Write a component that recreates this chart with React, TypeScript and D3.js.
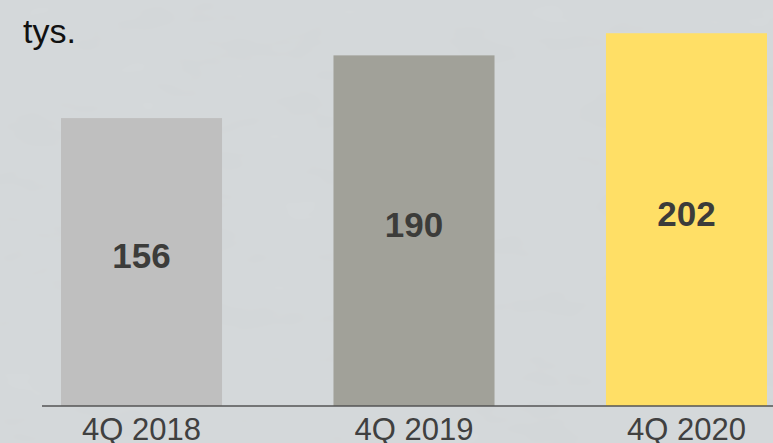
import React from "react";
import * as d3 from "d3";

const categories = ["4Q 2018", "4Q 2019", "4Q 2020"];
const values = [156, 190, 202];
const barColors = ["#bfbfbf", "#a1a199", "#ffdf66"];
const unitLabel = "tys.";

const W = 773;
const H = 443;
const baseY = 406;

export default function App() {
  const x = d3.scaleBand<string>().domain(categories).range([61, 767]).paddingInner(0.409).paddingOuter(0);
  const y = d3.scaleLinear().domain([0, 220]).range([baseY, 0]);
  const font = "'Liberation Sans', Arial, Helvetica, sans-serif";
  return (
    <svg width={W} height={H} style={{ position: "absolute", left: 0, top: 0, display: "block" }} fontFamily={font}>
      <defs>
        <filter id="tex" x="0" y="0" width="100%" height="100%">
          <feTurbulence type="fractalNoise" baseFrequency="0.012 0.03" numOctaves={3} seed={4} />
          <feColorMatrix type="matrix" values="0 0 0 0 0.5  0 0 0 0 0.52  0 0 0 0 0.53  0 0 0 0.09 0" />
        </filter>
      </defs>
      <rect x={0} y={0} width={W} height={H} fill="#d5d9db" />
      <rect x={0} y={0} width={W} height={H} filter="url(#tex)" />
      <text x={23} y={43} fontSize={34} fill="#111">{unitLabel}</text>
      {categories.map((c, i) => {
        const x0 = x(c)!;
        const top = y(values[i]);
        const mid = (top + baseY) / 2;
        return (
          <g key={c}>
            <rect x={x0} y={top} width={x.bandwidth()} height={baseY - top} fill={barColors[i]} />
            <text x={x0 + x.bandwidth() / 2} y={mid + 6} textAnchor="middle" fontSize={35} fontWeight="bold" fill="#3c3c3a">
              {values[i]}
            </text>
            <text x={x0 + x.bandwidth() / 2} y={440} textAnchor="middle" fontSize={31} fill="#404040">
              {c}
            </text>
          </g>
        );
      })}
      <line x1={42} x2={W} y1={baseY} y2={baseY} stroke="#555" strokeWidth={1.5} />
    </svg>
  );
}
